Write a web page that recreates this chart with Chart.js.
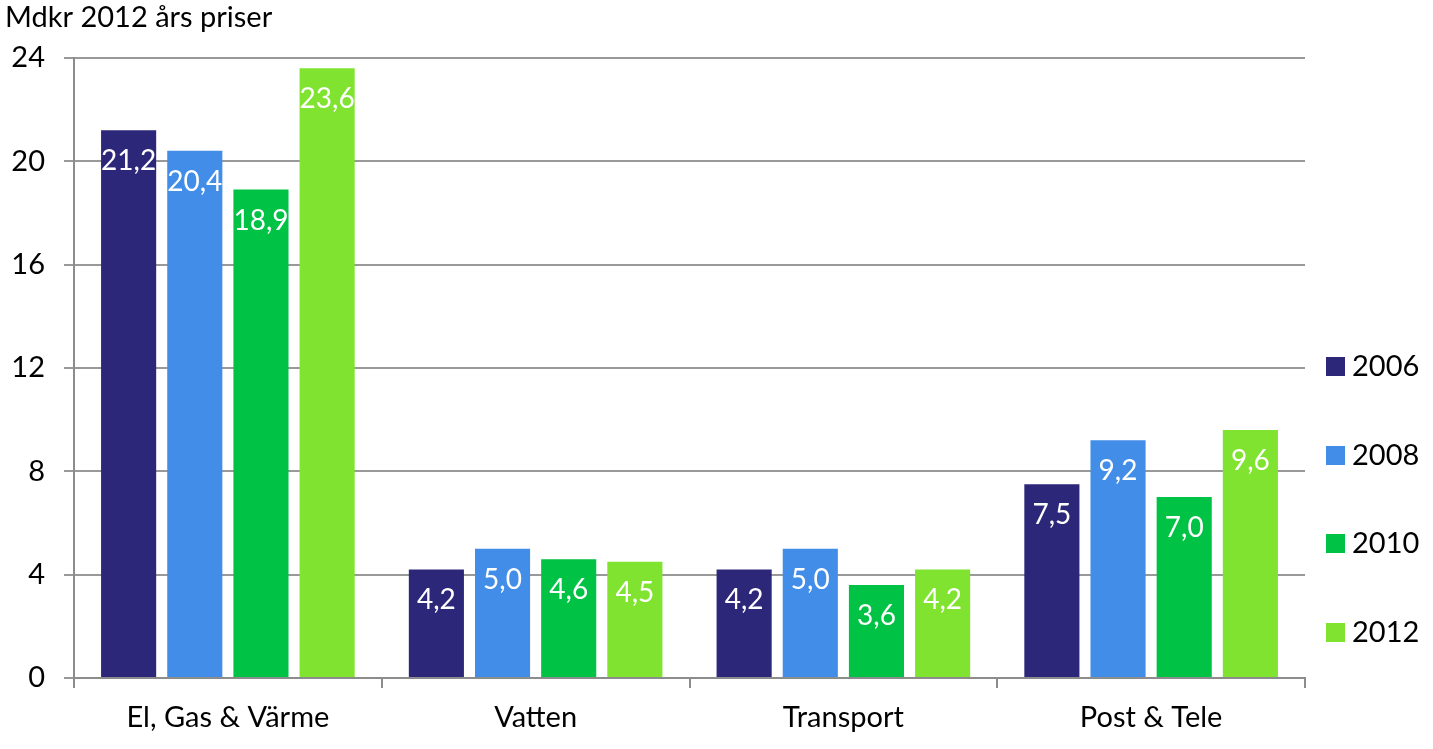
<!DOCTYPE html>
<html>
<head>
<meta charset="utf-8">
<script src="https://cdn.jsdelivr.net/npm/chart.js@4"></script>
<style>
  html, body { margin: 0; padding: 0; background: #fff; }
  #wrap { width: 1433px; height: 749px; }
</style>
</head>
<body>
<div id="wrap"><canvas id="chart" width="1433" height="749"></canvas></div>
<script>
const categories = ["El, Gas & Värme", "Vatten", "Transport", "Post & Tele"];
const years = ["2006", "2008", "2010", "2012"];
const values2006 = [21.2, 4.2, 4.2, 7.5];
const values2008 = [20.4, 5.0, 5.0, 9.2];
const values2010 = [18.9, 4.6, 3.6, 7.0];
const values2012 = [23.6, 4.5, 4.2, 9.6];
const yTicks = [0, 4, 8, 12, 16, 20, 24];
const colors = ["#2d2779", "#418de8", "#00c244", "#7fe32f"];

const FONT = "Lato, 'Open Sans', sans-serif";

// white value labels inside the top of each bar
const barLabels = {
    id: "barLabels",
    afterDatasetsDraw(chart) {
        const ctx = chart.ctx;
        ctx.save();
        ctx.fillStyle = "#fff";
        ctx.font = "28px " + FONT;
        ctx.textAlign = "center";
        ctx.textBaseline = "middle";
        chart.data.datasets.forEach((ds, i) => {
            chart.getDatasetMeta(i).data.forEach((bar, j) => {
                const txt = ds.data[j].toFixed(1).replace(".", ",");
                ctx.fillText(txt, bar.x, bar.y + 31);
            });
        });
        ctx.restore();
    }
};

// legend on the right, one row per year
const sideLegend = {
    id: "sideLegend",
    afterDraw(chart) {
        const ctx = chart.ctx;
        const rows = [366, 455, 543, 632];
        ctx.save();
        ctx.font = "29px " + FONT;
        ctx.textBaseline = "middle";
        ctx.textAlign = "left";
        chart.data.datasets.forEach((ds, i) => {
            ctx.fillStyle = ds.backgroundColor;
            ctx.fillRect(1326, rows[i] - 9, 19, 19);
            ctx.fillStyle = "#000";
            ctx.fillText(ds.label, 1352, rows[i] + 1);
        });
        ctx.restore();
    }
};

const seriesValues = [values2006, values2008, values2010, values2012];

new Chart(document.getElementById("chart"), {
    type: "bar",
    data: {
        labels: categories,
        datasets: years.map((y, i) => ({
            label: y,
            data: seriesValues[i],
            backgroundColor: colors[i],
            categoryPercentage: 0.86,
            barPercentage: 0.833
        }))
    },
    options: {
        responsive: false,
        animation: false,
        layout: { padding: { left: 5, right: 128, top: 0, bottom: 0 } },
        plugins: {
            legend: { display: false },
            tooltip: { enabled: false },
            title: {
                display: true,
                text: "Mdkr 2012 års priser",
                align: "start",
                color: "#000",
                font: { family: FONT, size: 29, weight: "normal" },
                padding: { top: 0, bottom: 23 }
            }
        },
        scales: {
            x: {
                grid: {
                    offset: true,
                    drawOnChartArea: false,
                    drawTicks: true,
                    tickLength: 10,
                    color: "#8c8c8c",
                    lineWidth: 2
                },
                border: { color: "#8c8c8c", width: 2 },
                ticks: {
                    color: "#000",
                    padding: 12,
                    font: { family: FONT, size: 29 }
                },
                afterFit(scale) { scale.height = 71; }
            },
            y: {
                min: 0,
                max: 24,
                afterBuildTicks(scale) {
                    scale.ticks = yTicks.map(v => ({ value: v }));
                },
                grid: {
                    color: "#999",
                    lineWidth: 2,
                    tickLength: 10
                },
                border: { color: "#8c8c8c", width: 2 },
                ticks: {
                    color: "#000",
                    padding: 19,
                    font: { family: FONT, size: 29 }
                },
                afterFit(scale) { scale.width = 69; }
            }
        }
    },
    plugins: [barLabels, sideLegend]
});
</script>
</body>
</html>
